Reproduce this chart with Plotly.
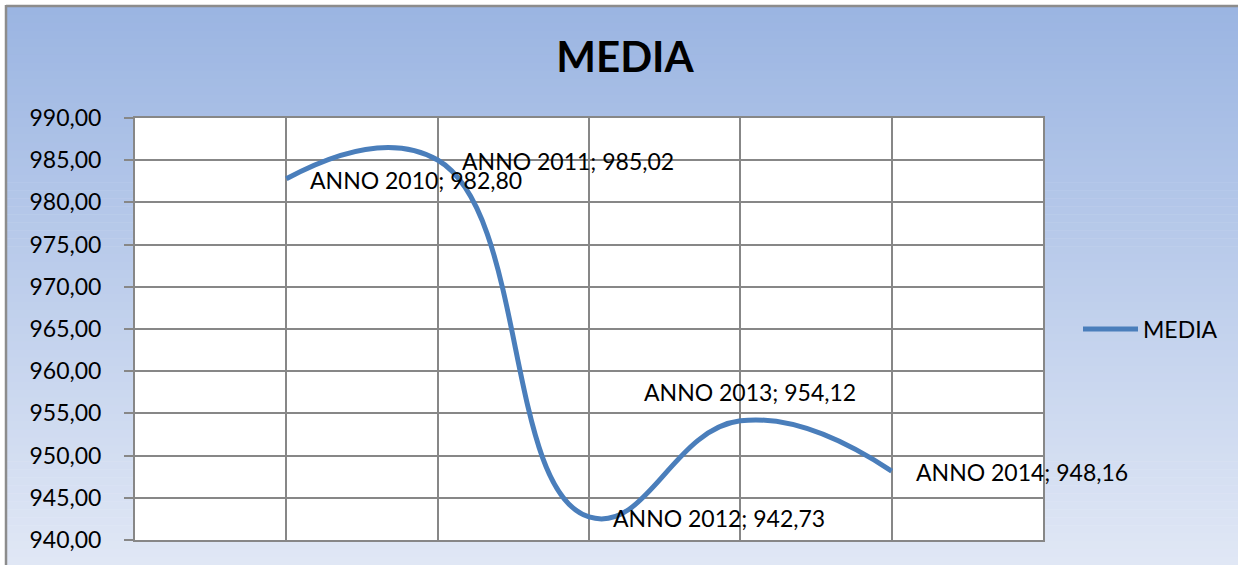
import plotly.graph_objects as go

# ---- data ----
categories = ["ANNO 2010", "ANNO 2011", "ANNO 2012", "ANNO 2013", "ANNO 2014"]
media_values = [982.80, 985.02, 942.73, 954.12, 948.16]
y_tick_values = [940, 945, 950, 955, 960, 965, 970, 975, 980, 985, 990]
series_name = "MEDIA"
chart_title = "MEDIA"

# category slots: points sit on the gridlines 1..5 of a 0..6 axis
x_pos = [i + 1 for i in range(len(categories))]

FONT = "Lato"
W, H = 1238, 565
L, R, T, B = 135, 1043, 118, 540

fig = go.Figure()
fig.add_trace(go.Scatter(
    x=x_pos, y=media_values, name=series_name, mode="lines",
    line=dict(color="#4a7ebb", width=5, shape="spline", smoothing=1.3),
    hoverinfo="skip",
))

# label placement (style only)
place = {3: dict(xanchor="center", yanchor="middle", xshift=10, yshift=29)}
annotations = []
for i, (cat, v) in enumerate(zip(categories, media_values)):
    p = place.get(i, dict(xanchor="left", yanchor="middle", xshift=22, yshift=-1))
    annotations.append(dict(
        x=x_pos[i], y=v, xref="x", yref="y", showarrow=False,
        text=f"{cat}; " + f"{v:.2f}".replace(".", ","),
        font=dict(family=FONT, size=23, color="#000000"), **p))

# background gradient stripes (paper coords)
def px_to_paper_x(px):
    return (px - L) / (R - L)

def px_to_paper_y(py):
    return (B - py) / (B - T)

top_c = (0x9b, 0xb5, 0xe2)
bot_c = (0xe0, 0xe7, 0xf5)
shapes = []
n = 70
y_start, y_end = 7, H
for k in range(n):
    y0 = y_start + (y_end - y_start) * k / n
    y1 = y_start + (y_end - y_start) * (k + 1) / n
    t = k / (n - 1)
    c = tuple(round(top_c[j] + (bot_c[j] - top_c[j]) * t) for j in range(3))
    shapes.append(dict(type="rect", xref="paper", yref="paper", layer="below",
                       x0=px_to_paper_x(7), x1=px_to_paper_x(W),
                       y0=px_to_paper_y(min(y1 + 0.5, H)), y1=px_to_paper_y(y0),
                       line=dict(width=0), fillcolor="rgb(%d,%d,%d)" % c))
shapes.append(dict(type="rect", xref="paper", yref="paper", layer="below",
                   x0=0, x1=1, y0=0, y1=1, line=dict(width=0), fillcolor="white"))
# chart border (top and left)
shapes.append(dict(type="line", xref="paper", yref="paper", layer="above",
                   x0=px_to_paper_x(6), x1=px_to_paper_x(W),
                   y0=px_to_paper_y(6), y1=px_to_paper_y(6),
                   line=dict(color="#8c8c8c", width=2.5)))
shapes.append(dict(type="line", xref="paper", yref="paper", layer="above",
                   x0=px_to_paper_x(6), x1=px_to_paper_x(6),
                   y0=px_to_paper_y(5), y1=px_to_paper_y(H),
                   line=dict(color="#8c8c8c", width=2.5)))

grid_c = "#878787"
fig.update_layout(
    width=W, height=H,
    margin=dict(l=L, r=W - R, t=T, b=H - B, pad=0),
    paper_bgcolor="white", plot_bgcolor="white",
    separators=",.",
    font=dict(family=FONT, size=23, color="#000000"),
    title=dict(text=f"<b>{chart_title}</b>", x=(625) / W, xanchor="center",
               y=1 - 57 / H, yanchor="middle",
               font=dict(family=FONT, size=42, color="#000000")),
    showlegend=True,
    legend=dict(x=px_to_paper_x(1078), y=px_to_paper_y(329), xanchor="left", yanchor="middle",
                bgcolor="rgba(0,0,0,0)", font=dict(family=FONT, size=23, color="#000000"),
                itemwidth=55),
    xaxis=dict(range=[0, 6], tickvals=list(range(7)), showticklabels=False,
               showgrid=True, gridcolor=grid_c, gridwidth=2, zeroline=False,
               showline=True, linecolor=grid_c, linewidth=2, mirror=True, ticks=""),
    yaxis=dict(range=[940, 990], tickvals=y_tick_values, tickformat=".2f",
               showgrid=True, gridcolor=grid_c, gridwidth=2, zeroline=False,
               showline=True, linecolor=grid_c, linewidth=2, mirror=True,
               ticks="outside", ticklen=9, tickwidth=2, tickcolor=grid_c,
               ticklabelstandoff=18,
               tickfont=dict(family=FONT, size=23, color="#000000")),
    annotations=annotations,
    shapes=shapes,
)

fig.write_html("out.html", config={"displayModeBar": False},
               post_script="document.body.style.margin='0px';document.body.style.overflow='hidden';")
